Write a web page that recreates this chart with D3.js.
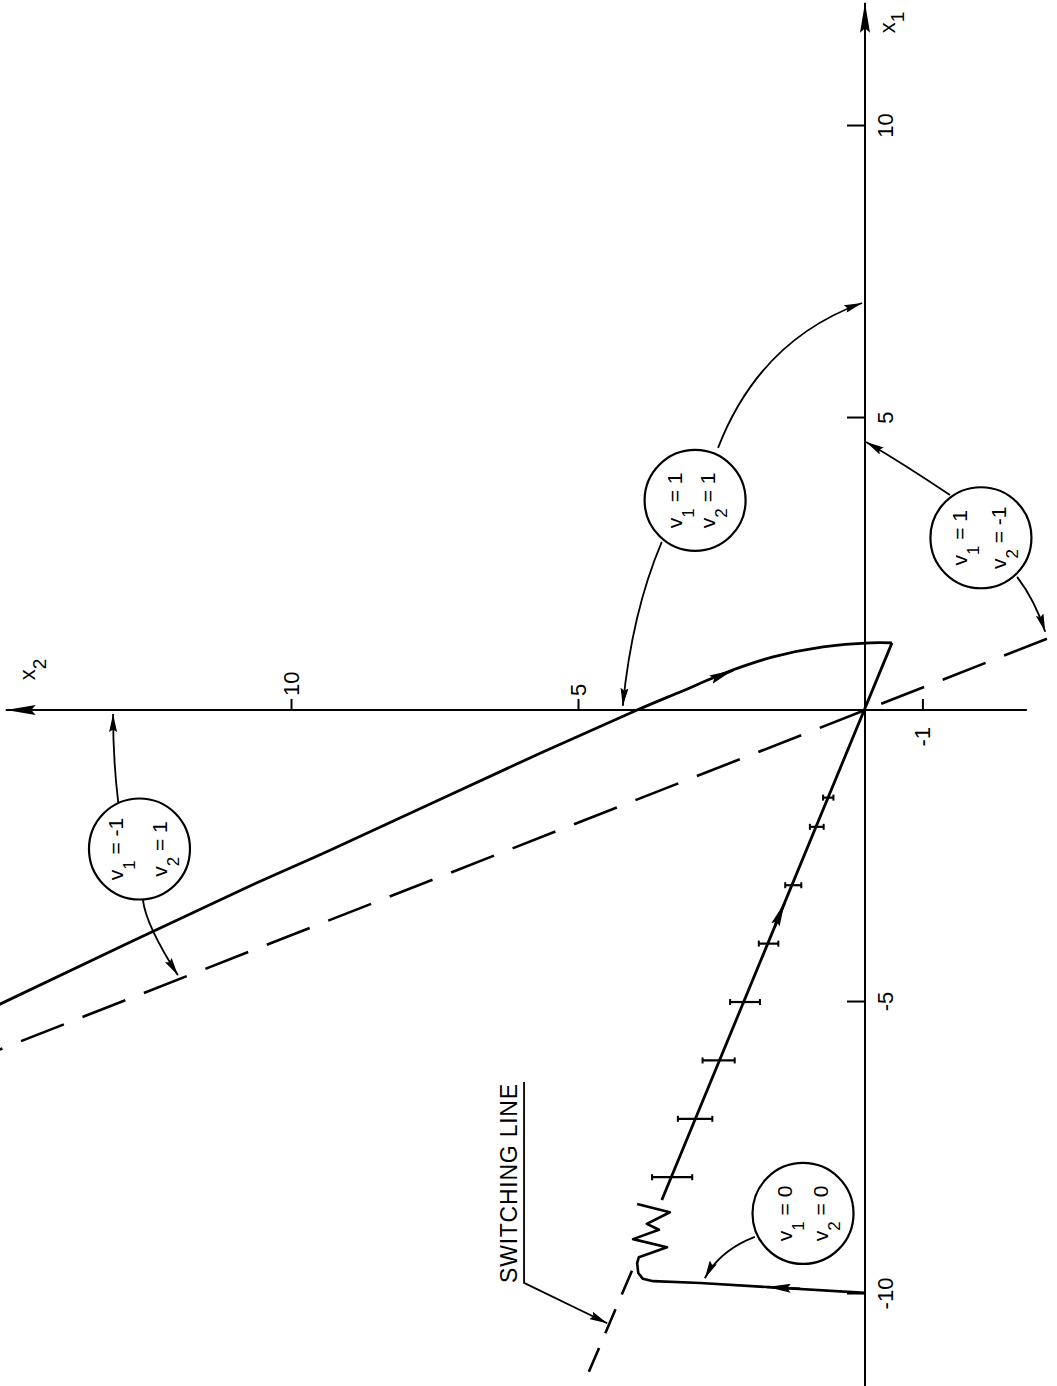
<!DOCTYPE html>
<html>
<head>
<meta charset="utf-8">
<script src="https://cdn.jsdelivr.net/npm/d3@7"></script>
<style>
  html, body { margin: 0; padding: 0; background: #fff; }
  svg { display: block; background: #fff; }
  text { font-family: "Liberation Sans", Arial, sans-serif; fill: #000; white-space: pre; }
</style>
</head>
<body>
<svg id="chart" width="1057" height="1386"></svg>
<script>
// phase plane x1 / x2, drawn landscape and turned on its side like the original plate

const x1Ticks = [10, 5, -5, -10];
const x2Ticks = [10, 5, -1];

// trajectory coming in from the upper left, bending onto the sliding line
const upperX1 = [-5.05, -3.05, -2.40, -0.74, 0, 0.31, 0.68, 0.91, 1.08, 1.15, 1.15];
const upperX2 = [15.1, 10.80, 9.32, 5.66, 3.97, 3.22, 2.32, 1.60, 0.73, -0.09, -0.47];

// sliding motion along the switching line through the origin
const slideX1 = [1.15, -8.39];
const slideX2 = [-0.47, 3.54];

// start at x1 = -10, chatter, then slide
const lowerX1 = [-9.98, -9.88, -9.81, -9.78, -9.74, -9.64, -9.47, -9.37, -9.20, -9.06, -8.90, -8.80, -8.60, -8.46];
const lowerX2 = [0.0, 1.71, 2.87, 3.69, 3.87, 3.95, 3.97, 3.94, 3.45, 4.04, 3.59, 3.80, 3.40, 3.97];

// error bars on the sliding line
const barX1 = [-1.5, -2, -3, -4, -5, -6, -7, -8];
const barX2 = [0.64, 0.84, 1.25, 1.68, 2.09, 2.55, 2.96, 3.36];
const barHalf = [0.09, 0.12, 0.14, 0.17, 0.26, 0.28, 0.30, 0.35];

// dashed switching lines
const switchAX1 = [1.22, -5.9];
const switchAX2 = [-3.17, 15.3];
const switchBX1 = [-9.6, -11.7];
const switchBX2 = [4.06, 4.97];

// control values written in the circles
const bubbleV1 = ['-1', '1', '1', '0'];
const bubbleV2 = ['1', '1', '-1', '0'];

const W = 1057, H = 1386;
const svg = d3.select('#chart');
const g = svg.append('g').attr('transform', `translate(0,${H}) rotate(-90)`);

const x = d3.scaleLinear().domain([-11.575, 12.158]).range([0, H]);
const y = d3.scaleLinear().domain([-3.345, 15.07]).range([W, 0]);

// arrowheads
const defs = svg.append('defs');
function marker(id, len, wid) {
  defs.append('marker')
    .attr('id', id)
    .attr('markerUnits', 'userSpaceOnUse')
    .attr('viewBox', `0 0 ${len} ${wid}`)
    .attr('markerWidth', len)
    .attr('markerHeight', wid)
    .attr('refX', len)
    .attr('refY', wid / 2)
    .attr('orient', 'auto')
    .append('path')
    .attr('d', `M0,0L${len},${wid / 2}L0,${wid}L${len * 0.15},${wid / 2}Z`)
    .attr('fill', '#000');
}
marker('axisHead', 30, 10);
marker('flowHead', 24, 9);
marker('pointHead', 18, 8);

const line = d3.line().x(d => x(d[0])).y(d => y(d[1]));
const fmt = d => (d < 0 ? '-' + Math.abs(d) : String(d));

// axes lines
g.append('path')
  .attr('d', line([[-11.6, 0], [12.11, 0]]))
  .attr('stroke', '#000').attr('stroke-width', 2).attr('fill', 'none')
  .attr('marker-end', 'url(#axisHead)');
g.append('path')
  .attr('d', line([[0, -2.82], [0, 14.97]]))
  .attr('stroke', '#000').attr('stroke-width', 2).attr('fill', 'none')
  .attr('marker-end', 'url(#axisHead)');

function styleAxis(sel) {
  sel.select('.domain').remove();
  sel.selectAll('line').attr('stroke-width', 2);
  sel.attr('font-size', 22).attr('font-family', '"Liberation Sans", Arial, sans-serif');
}

// x1 axis: ticks on one side, numbers on the other
g.append('g')
  .attr('transform', `translate(0,${y(0)})`)
  .call(d3.axisTop(x).tickValues(x1Ticks).tickSize(18).tickFormat(''))
  .call(styleAxis);
g.append('g')
  .attr('transform', `translate(0,${y(0)})`)
  .call(d3.axisBottom(x).tickValues(x1Ticks).tickSize(0).tickPadding(12).tickFormat(fmt))
  .call(styleAxis);

// x2 axis
g.append('g')
  .attr('transform', `translate(${x(0)},0)`)
  .call(d3.axisRight(y).tickValues(x2Ticks).tickSize(11).tickPadding(3)
    .tickFormat(d => (d > 0 ? fmt(d) : '')))
  .call(styleAxis);
g.append('g')
  .attr('transform', `translate(${x(0)},0)`)
  .call(d3.axisLeft(y).tickValues([-1]).tickSize(0).tickPadding(17).tickFormat(fmt))
  .call(styleAxis);

// axis titles
function subLabel(px1, px2, main, sub, size, subSize, shift) {
  const t = g.append('text')
    .attr('x', x(px1)).attr('y', y(px2))
    .attr('font-size', size);
  t.append('tspan').text(main);
  t.append('tspan').attr('font-size', subSize).attr('dy', shift).text(sub);
  return t;
}
subLabel(11.59, -0.52, 'x', '1', 22, 19, 9);
subLabel(0.51, 14.46, 'x', '2', 22, 19, 11);

// switching lines (dashed)
g.append('path')
  .attr('d', line(d3.zip(switchAX1, switchAX2)))
  .attr('stroke', '#000').attr('stroke-width', 2.6).attr('fill', 'none')
  .attr('stroke-dasharray', '46,20');
g.append('path')
  .attr('d', line(d3.zip(switchBX1, switchBX2)))
  .attr('stroke', '#000').attr('stroke-width', 2.6).attr('fill', 'none')
  .attr('stroke-dasharray', '26,16');

// trajectories
g.append('path')
  .attr('d', line.curve(d3.curveCatmullRom)(d3.zip(upperX1, upperX2)))
  .attr('stroke', '#000').attr('stroke-width', 2.8).attr('fill', 'none');
line.curve(d3.curveLinear);
g.append('path')
  .attr('d', line(d3.zip(slideX1, slideX2)))
  .attr('stroke', '#000').attr('stroke-width', 2.8).attr('fill', 'none');
g.append('path')
  .attr('d', line(d3.zip(lowerX1, lowerX2)))
  .attr('stroke', '#000').attr('stroke-width', 2.6).attr('fill', 'none')
  .attr('stroke-linejoin', 'round');

// direction arrows on the trajectories
const flowArrows = [
  [[-9.91, 1.13], [-9.88, 1.71]],
  [[-3.70, 1.57], [-3.30, 1.40]],
  [[0.55, 2.61], [0.68, 2.30]]
];
g.selectAll('.flow')
  .data(flowArrows)
  .join('path')
  .attr('class', 'flow')
  .attr('d', d => line(d))
  .attr('stroke', '#000').attr('stroke-width', 2.6).attr('fill', 'none')
  .attr('marker-end', 'url(#flowHead)');

// error bars
const bars = g.append('g');
barX1.forEach((v, i) => {
  const u = x(v);
  const a = y(barX2[i] - barHalf[i]);
  const b = y(barX2[i] + barHalf[i]);
  bars.append('line')
    .attr('x1', u).attr('x2', u).attr('y1', a).attr('y2', b)
    .attr('stroke', '#000').attr('stroke-width', 2.2);
  [a, b].forEach(e => {
    bars.append('line')
      .attr('x1', u - 3).attr('x2', u + 3).attr('y1', e).attr('y2', e)
      .attr('stroke', '#000').attr('stroke-width', 2);
  });
});

// circled control values with pointers
const bubblePos = [
  { x1: -2.38, x2: 12.64, gap: [-16, 28] },
  { x1: 3.59, x2: 2.96, gap: [-13, 20] },
  { x1: 2.95, x2: -2.02, gap: [-14, 25] },
  { x1: -8.62, x2: 1.08, gap: [-11, 25] }
];
bubblePos.forEach((b, i) => {
  const cx = x(b.x1), cy = y(b.x2);
  g.append('circle')
    .attr('cx', cx).attr('cy', cy).attr('r', 50.5)
    .attr('fill', 'none').attr('stroke', '#000').attr('stroke-width', 2.2);
  [['1', bubbleV1[i]], ['2', bubbleV2[i]]].forEach((row, k) => {
    const t = g.append('text')
      .attr('x', cx).attr('y', cy + b.gap[k])
      .attr('text-anchor', 'middle')
      .attr('font-size', 21);
    t.append('tspan').text('v');
    t.append('tspan').attr('font-size', 17).attr('dy', 12).text(row[0]);
    t.append('tspan').attr('dy', -12).text(' = ' + row[1]);
  });
});

const pointers = [
  [[-1.58, 13.01], [-0.86, 13.10], [-0.07, 13.10]],
  [[-3.25, 12.58], [-3.68, 12.53], [-4.54, 11.97]],
  [[2.88, 3.54], [1.68, 4.06], [0.07, 4.22]],
  [[4.49, 2.56], [6.34, 1.83], [6.97, 0.05]],
  [[3.68, -1.48], [4.20, -0.70], [4.59, -0.02]],
  [[2.28, -2.65], [1.88, -2.96], [1.34, -3.14]],
  [[-9.02, 1.92], [-9.25, 2.53], [-9.73, 2.79]]
];
g.selectAll('.pointer')
  .data(pointers)
  .join('path')
  .attr('class', 'pointer')
  .attr('d', d => `M${x(d[0][0])},${y(d[0][1])}Q${x(d[1][0])},${y(d[1][1])} ${x(d[2][0])},${y(d[2][1])}`)
  .attr('stroke', '#000').attr('stroke-width', 1.8).attr('fill', 'none')
  .attr('marker-end', 'url(#pointHead)');

// SWITCHING LINE label, underline and leader
g.append('text')
  .attr('x', x(-9.81)).attr('y', y(6.06))
  .attr('font-size', 23)
  .attr('textLength', 199)
  .attr('lengthAdjust', 'spacing')
  .text('SWITCHING LINE');
g.append('path')
  .attr('d', line([[-6.37, 5.94], [-9.81, 5.94], [-10.50, 4.49]]))
  .attr('stroke', '#000').attr('stroke-width', 1.8).attr('fill', 'none')
  .attr('marker-end', 'url(#pointHead)');
</script>
</body>
</html>
